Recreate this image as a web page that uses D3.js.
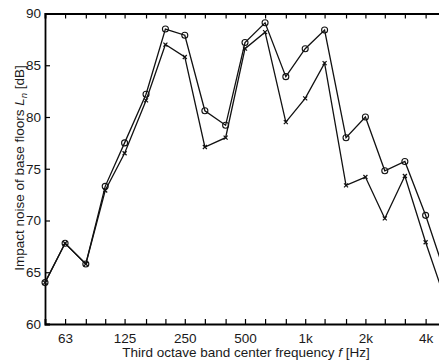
<!DOCTYPE html>
<html>
<head>
<meta charset="utf-8">
<script src="https://cdn.jsdelivr.net/npm/d3@7"></script>
<style>
  body { margin: 0; background: #fff; }
  svg { display: block; font-family: "Liberation Sans", Arial, sans-serif; }
</style>
</head>
<body>
<svg id="chart"></svg>
<script>
// third octave band centre frequencies
var freqs = [50, 63, 80, 100, 125, 160, 200, 250, 315, 400, 500, 630, 800, 1000, 1250, 1600, 2000, 2500, 3150, 4000, 5000];
// series with open circles
var upper = [64.0, 67.8, 65.8, 73.3, 77.5, 82.2, 88.5, 87.9, 80.6, 79.2, 87.2, 89.1, 83.9, 86.6, 88.4, 78.0, 80.0, 74.8, 75.7, 70.5, 64.9];
// series with small crosses
var lower = [64.0, 67.8, 65.8, 72.9, 76.5, 81.6, 87.0, 85.8, 77.1, 78.0, 86.6, 88.2, 79.5, 81.8, 85.2, 73.4, 74.2, 70.2, 74.3, 67.9, 62.4];
var xLabels = [63, 125, 250, 500, 1000, 2000, 4000];
var yTicks = [60, 65, 70, 75, 80, 85, 90];

var W = 439, H = 363;
var margin = {top: 13.5, left: 45};
var plotW = 400, plotH = 310.5;

var svg = d3.select("#chart").attr("width", W).attr("height", H);

var x = d3.scaleLog().domain([50, 5000]).range([0, plotW]);
var y = d3.scaleLinear().domain([60, 90]).range([plotH, 0]);

var g = svg.append("g")
  .attr("transform", "translate(" + margin.left + "," + margin.top + ")");

function fmt(d) {
  if (xLabels.indexOf(d) < 0) return "";
  return d >= 1000 ? (d / 1000) + "k" : d;
}

// bottom axis, ticks pointing in
g.append("g")
  .attr("class", "axis")
  .attr("transform", "translate(0," + plotH + ")")
  .call(d3.axisBottom(x).tickValues(freqs).tickFormat(fmt).tickSize(-5).tickPadding(9));

// top axis, no labels
g.append("g")
  .attr("class", "axis")
  .call(d3.axisTop(x).tickValues(freqs).tickFormat("").tickSize(-5));

// left axis
g.append("g")
  .attr("class", "axis")
  .call(d3.axisLeft(y).tickValues(yTicks).tickSize(-5).tickPadding(4));

g.selectAll(".axis .domain")
  .attr("stroke", "#000")
  .attr("stroke-width", 1.8);
g.selectAll(".axis .tick line")
  .attr("stroke", "#000")
  .attr("stroke-width", 1.2);
g.selectAll(".axis text")
  .attr("font-size", "13.5px")
  .attr("fill", "#1a1a1a");

var line = d3.line()
  .x(function(d, i) { return x(freqs[i]); })
  .y(function(d) { return y(d); });

[lower, upper].forEach(function(s) {
  g.append("path")
    .datum(s)
    .attr("fill", "none")
    .attr("stroke", "#111")
    .attr("stroke-width", 1.3)
    .attr("d", line);
});

// cross markers
g.selectAll(".xm")
  .data(lower)
  .enter()
  .append("path")
  .attr("class", "xm")
  .attr("transform", function(d, i) { return "translate(" + x(freqs[i]) + "," + y(d) + ")"; })
  .attr("d", "M-2,-2L2,2M-2,2L2,-2")
  .attr("stroke", "#111")
  .attr("stroke-width", 1.2);

// circle markers
g.selectAll(".cm")
  .data(upper)
  .enter()
  .append("circle")
  .attr("class", "cm")
  .attr("cx", function(d, i) { return x(freqs[i]); })
  .attr("cy", function(d) { return y(d); })
  .attr("r", 3)
  .attr("fill", "none")
  .attr("stroke", "#111")
  .attr("stroke-width", 1.1);

// axis titles
var xt = svg.append("text")
  .attr("x", 246)
  .attr("y", 357)
  .attr("text-anchor", "middle")
  .attr("font-size", "13.5px")
  .attr("fill", "#1a1a1a");
xt.append("tspan").text("Third octave band center frequency ");
xt.append("tspan").attr("font-style", "italic").text("f");
xt.append("tspan").text(" [Hz]");

var yt = svg.append("text")
  .attr("transform", "translate(23.5,168) rotate(-90)")
  .attr("text-anchor", "middle")
  .attr("font-size", "13.5px")
  .attr("fill", "#1a1a1a");
yt.append("tspan").text("Impact noise of base floors  ");
yt.append("tspan").attr("font-style", "italic").text("L");
yt.append("tspan").attr("font-style", "italic").attr("font-size", "9.5px").attr("dy", 3).text("n");
yt.append("tspan").attr("dy", -3).text(" [dB]");
</script>
</body>
</html>
